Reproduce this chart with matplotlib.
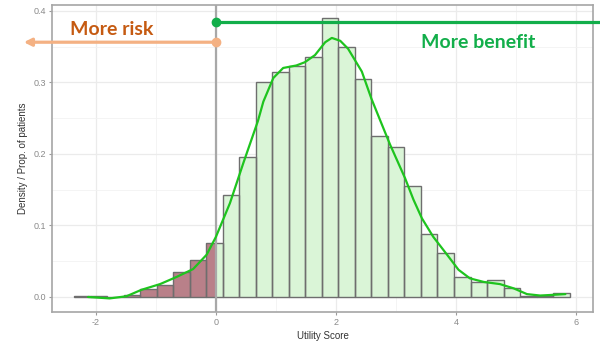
import matplotlib
matplotlib.use("Agg")
import matplotlib.pyplot as plt
import numpy as np

plt.rcParams["axes.unicode_minus"] = False

# ---- data ----
bin_start = -2.36
bin_width = 0.275
bin_heights = [0.002, 0.001, 0.000, 0.003, 0.011, 0.017, 0.035, 0.052, 0.075, 0.143,
               0.195, 0.300, 0.315, 0.323, 0.336, 0.390, 0.349, 0.305, 0.225, 0.209,
               0.155, 0.088, 0.061, 0.028, 0.021, 0.024, 0.012, 0.002, 0.001, 0.006]

curve_x = [-2.13, -1.77, -1.49, -1.24, -0.93, -0.655, -0.38, -0.155, 0.0, 0.233, 0.456,
           0.70, 0.79, 0.956, 1.12, 1.34, 1.48, 1.65, 1.82, 1.93, 2.07, 2.2, 2.43, 2.59,
           2.73, 2.9, 3.15, 3.29, 3.43, 3.62, 3.85, 4.04, 4.23, 4.46, 4.73, 4.96, 5.18,
           5.4, 5.62, 5.82]
curve_y = [0.000, -0.002, 0.001, 0.010, 0.018, 0.028, 0.039, 0.059, 0.084, 0.131, 0.187,
           0.246, 0.273, 0.306, 0.320, 0.3235, 0.328, 0.338, 0.356, 0.362, 0.358, 0.347,
           0.315, 0.277, 0.248, 0.213, 0.166, 0.136, 0.110, 0.084, 0.059, 0.038, 0.026,
           0.021, 0.018, 0.012, 0.004, 0.002, 0.003, 0.004]

x_ticks = [-2, 0, 2, 4, 6]
y_ticks = [0.0, 0.1, 0.2, 0.3, 0.4]
y_tick_labels = ["0.0", "0.1", "0.2", "0.3", "0.4"]

risk_y = 0.356
benefit_y = 0.384

# ---- figure ----
fig = plt.figure(figsize=(6.0, 3.44), dpi=100)
ax = fig.add_axes([52/600, 1-312/344, (593-52)/600, (312-5)/344])
ax.set_xlim(-2.73, 6.28)
ax.set_ylim(-0.021, 0.408)

# grid (theme_bw like)
ax.set_axisbelow(True)
ax.set_xticks(x_ticks)
ax.set_xticks([-1, 1, 3, 5], minor=True)
ax.set_yticks(y_ticks)
ax.set_yticks([0.05, 0.15, 0.25, 0.35], minor=True)
ax.set_yticklabels(y_tick_labels)
ax.grid(which="major", color="#EBEBEB", linewidth=0.9)
ax.grid(which="minor", color="#F2F2F2", linewidth=0.6)
ax.tick_params(which="minor", length=0)
ax.tick_params(which="major", length=2.5, width=0.8, color="#9A9A9A",
               labelsize=6.5, labelcolor="#8A8A8A", pad=2)
for lab in ax.get_xticklabels() + ax.get_yticklabels():
    lab.set_family("Liberation Sans")
for s in ax.spines.values():
    s.set_color("#A6A6A6")
    s.set_linewidth(1.2)

# histogram fills split at zero
edges = [bin_start + i * bin_width for i in range(len(bin_heights) + 1)]
red_l, red_w, red_h, grn_l, grn_w, grn_h = [], [], [], [], [], []
for i, h in enumerate(bin_heights):
    l, r = edges[i], edges[i + 1]
    if l < 0:
        red_l.append(l); red_w.append(min(r, 0) - l); red_h.append(h)
    if r > 0:
        s = max(l, 0)
        grn_l.append(s); grn_w.append(r - s); grn_h.append(h)
ax.bar(red_l, red_h, width=red_w, align="edge", color="#B98089", linewidth=0, zorder=2)
ax.bar(grn_l, grn_h, width=grn_w, align="edge", color="#DAF5D7", linewidth=0, zorder=2)
ax.bar(edges[:-1], bin_heights, width=bin_width, align="edge", fill=False,
       edgecolor="#6E6E6E", linewidth=1.0, zorder=3)

# zero line
ax.axvline(0, color="#A8A8A8", linewidth=1.6, zorder=4)

# smooth curve
ax.plot(curve_x, curve_y, color="#1EC41E", linewidth=1.6, zorder=5,
        solid_capstyle="round")

# overlays: benefit (green) and risk (orange)
ax.plot([0, 6.9], [benefit_y, benefit_y], color="#12AE4A", linewidth=2.3,
        clip_on=False, zorder=6)
ax.plot([0], [benefit_y], "o", color="#12AE4A", markersize=6, clip_on=False, zorder=7)
ax.annotate("", xy=(-3.2, risk_y), xytext=(0, risk_y),
            arrowprops=dict(arrowstyle="-|>", color="#F4B183", linewidth=2.3,
                            mutation_scale=11, shrinkA=0, shrinkB=0),
            annotation_clip=False, zorder=6)
ax.plot([0], [risk_y], "o", color="#F4B183", markersize=6, clip_on=False, zorder=7)

ax.text(-1.73, 0.374, "More risk", color="#C55A11", fontsize=14, fontweight="bold",
        family="Lato", ha="center", va="center", zorder=8)
ax.text(4.36, 0.355, "More benefit", color="#12AE4A", fontsize=14, fontweight="bold",
        family="Lato", ha="center", va="center", zorder=8)

ax.set_xlabel("Utility Score", fontsize=7, color="#333333", family="Liberation Sans",
              labelpad=3)
ax.set_ylabel("Density / Prop. of patients", fontsize=7, color="#333333",
              family="Liberation Sans", labelpad=4)

fig.savefig("out.png", dpi=100)
